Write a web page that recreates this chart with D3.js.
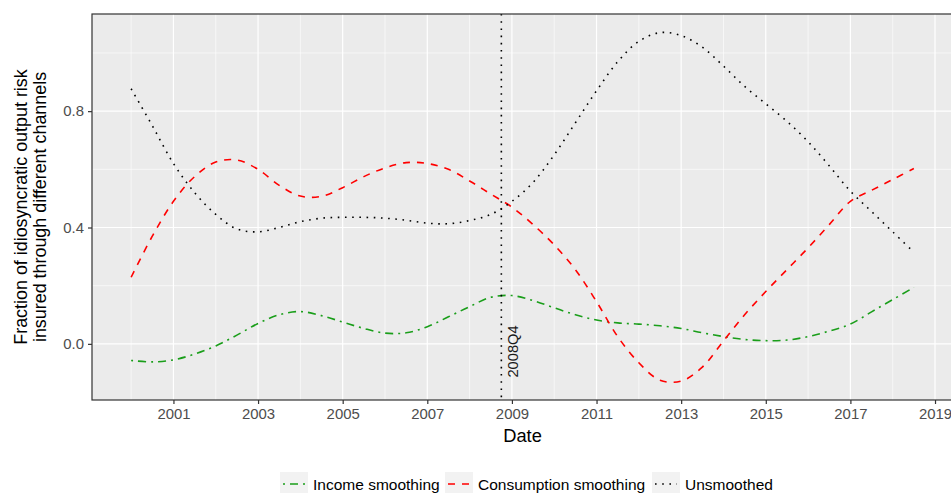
<!DOCTYPE html>
<html>
<head>
<meta charset="utf-8">
<script src="https://cdn.jsdelivr.net/npm/d3@7"></script>
<style>
  html, body { margin: 0; padding: 0; background: #fff; }
  svg { display: block; font-family: "Liberation Sans", Arial, sans-serif; }
</style>
</head>
<body>
<svg id="chart" width="951" height="493"></svg>
<script>
// ---- data ----
const years = [2000, 2000.5, 2001, 2001.5, 2002, 2002.5, 2003, 2003.5, 2004, 2004.5,
  2005, 2005.5, 2006, 2006.5, 2007, 2007.5, 2008, 2008.5, 2009, 2009.5,
  2010, 2010.5, 2011, 2011.5, 2012, 2012.5, 2013, 2013.5, 2014, 2014.5,
  2015, 2015.5, 2016, 2016.5, 2017, 2017.5, 2018, 2018.5];
const incomeSmoothing = [-0.057, -0.062, -0.055, -0.035, -0.007, 0.03, 0.07, 0.1, 0.111, 0.097,
  0.075, 0.053, 0.037, 0.038, 0.059, 0.093, 0.128, 0.16, 0.166, 0.149,
  0.124, 0.1, 0.082, 0.072, 0.068, 0.062, 0.053, 0.038, 0.025, 0.015,
  0.011, 0.013, 0.025, 0.044, 0.068, 0.11, 0.152, 0.194];
const consumptionSmoothing = [0.229, 0.37, 0.49, 0.575, 0.625, 0.632, 0.6, 0.545, 0.508, 0.507,
  0.537, 0.575, 0.605, 0.623, 0.62, 0.6, 0.56, 0.515, 0.47, 0.41,
  0.34, 0.255, 0.145, 0.025, -0.065, -0.125, -0.128, -0.08, 0.01, 0.1,
  0.18, 0.255, 0.33, 0.41, 0.49, 0.528, 0.565, 0.603];
const unsmoothed = [0.877, 0.75, 0.62, 0.52, 0.445, 0.395, 0.385, 0.4, 0.42, 0.432,
  0.435, 0.435, 0.432, 0.425, 0.415, 0.413, 0.424, 0.445, 0.49, 0.555,
  0.65, 0.76, 0.87, 0.97, 1.04, 1.07, 1.06, 1.02, 0.955, 0.885,
  0.825, 0.765, 0.695, 0.612, 0.525, 0.455, 0.385, 0.315];
const seriesNames = ["Income smoothing", "Consumption smoothing", "Unsmoothed"];
const xTicks = [2001, 2003, 2005, 2007, 2009, 2011, 2013, 2015, 2017, 2019];
const xMinor = [2000, 2002, 2004, 2006, 2008, 2010, 2012, 2014, 2016, 2018];
const yTicks = [0.0, 0.4, 0.8];
const yMinor = [0.2, 0.6, 1.0];
const eventDate = 2008.75;
const eventLabel = "2008Q4";
const yTitle = ["Fraction of idiosyncratic output risk", "insured through different channels"];
const xTitle = "Date";

// ---- layout ----
const svg = d3.select("#chart");
const panel = { left: 92, top: 14, right: 953, bottom: 400 };
const x = d3.scaleLinear().domain([1999.075, 2019.425]).range([panel.left, panel.right]);
const y = d3.scaleLinear().domain([-0.193, 1.134]).range([panel.bottom, panel.top]);

const styles = [
  { color: "#1A9E1A", dash: "2,5,8,5" },
  { color: "#FF0000", dash: "7,7" },
  { color: "#000000", dash: "1.6,5.6" }
];
const seriesData = [incomeSmoothing, consumptionSmoothing, unsmoothed];

// panel background
svg.append("rect").attr("x", panel.left).attr("y", panel.top)
  .attr("width", panel.right - panel.left).attr("height", panel.bottom - panel.top)
  .attr("fill", "#EBEBEB");

const grid = svg.append("g");
grid.selectAll(".vminor").data(xMinor).join("line")
  .attr("x1", d => x(d)).attr("x2", d => x(d))
  .attr("y1", panel.top).attr("y2", panel.bottom)
  .attr("stroke", "#fff").attr("stroke-width", 0.6);
grid.selectAll(".hminor").data(yMinor).join("line")
  .attr("y1", d => y(d)).attr("y2", d => y(d))
  .attr("x1", panel.left).attr("x2", panel.right)
  .attr("stroke", "#fff").attr("stroke-width", 0.6);
grid.selectAll(".vmajor").data(xTicks).join("line")
  .attr("x1", d => x(d)).attr("x2", d => x(d))
  .attr("y1", panel.top).attr("y2", panel.bottom)
  .attr("stroke", "#fff").attr("stroke-width", 1.2);
grid.selectAll(".hmajor").data(yTicks).join("line")
  .attr("y1", d => y(d)).attr("y2", d => y(d))
  .attr("x1", panel.left).attr("x2", panel.right)
  .attr("stroke", "#fff").attr("stroke-width", 1.2);

// lines
const line = d3.line().x(d => x(d[0])).y(d => y(d[1])).curve(d3.curveCatmullRom.alpha(0.5));
seriesData.forEach((vals, i) => {
  svg.append("path")
    .datum(years.map((yr, j) => [yr, vals[j]]))
    .attr("d", line)
    .attr("fill", "none")
    .attr("stroke", styles[i].color)
    .attr("stroke-width", 1.6)
    .attr("stroke-dasharray", styles[i].dash);
});

// event vertical line
svg.append("line")
  .attr("x1", x(eventDate)).attr("x2", x(eventDate))
  .attr("y1", panel.top).attr("y2", panel.bottom)
  .attr("stroke", "#000").attr("stroke-width", 1.6)
  .attr("stroke-dasharray", "1.6,5.6");
svg.append("text")
  .attr("transform", `translate(${x(eventDate) + 17},${y(-0.026)}) rotate(-90)`)
  .attr("text-anchor", "middle")
  .attr("font-size", 14.7)
  .attr("fill", "#1a1a1a")
  .text(eventLabel);

// panel border
svg.append("rect").attr("x", panel.left).attr("y", panel.top)
  .attr("width", panel.right - panel.left).attr("height", panel.bottom - panel.top)
  .attr("fill", "none").attr("stroke", "#333").attr("stroke-width", 1.2);

// axes
const xAxis = d3.axisBottom(x).tickValues(xTicks).tickFormat(d3.format("d")).tickSize(4).tickPadding(4);
const gx = svg.append("g").attr("transform", `translate(0,${panel.bottom})`).call(xAxis);
const yAxis = d3.axisLeft(y).tickValues(yTicks).tickFormat(d3.format(".1f")).tickSize(4).tickPadding(4);
const gy = svg.append("g").attr("transform", `translate(${panel.left},0)`).call(yAxis);
[gx, gy].forEach(g => {
  g.select(".domain").remove();
  g.selectAll(".tick line").attr("stroke", "#333").attr("stroke-width", 1.2);
  g.selectAll(".tick text").attr("fill", "#4D4D4D").attr("font-size", 14.9)
    .attr("font-family", "Liberation Sans, Arial, sans-serif");
});

// axis titles
svg.append("text").attr("x", (panel.left + 951) / 2 + 1).attr("y", 442)
  .attr("text-anchor", "middle").attr("font-size", 18.3).attr("fill", "#000").text(xTitle);
const yt = svg.append("text")
  .attr("transform", `translate(0,${(panel.top + panel.bottom) / 2}) rotate(-90)`)
  .attr("text-anchor", "middle").attr("font-size", 17.9).attr("fill", "#000");
yt.append("tspan").attr("x", 0).attr("y", 27).text(yTitle[0]);
yt.append("tspan").attr("x", 0).attr("y", 46).text(yTitle[1]);

// legend
const legendItems = [
  { key: 280, text: 313 },
  { key: 445, text: 478 },
  { key: 652, text: 685 }
];
const lg = svg.append("g");
seriesNames.forEach((name, i) => {
  const k = legendItems[i];
  lg.append("rect").attr("x", k.key).attr("y", 472).attr("width", 28).attr("height", 24)
    .attr("fill", "#F2F2F2");
  lg.append("line").attr("x1", k.key + 3).attr("x2", k.key + 25)
    .attr("y1", 484).attr("y2", 484)
    .attr("stroke", styles[i].color).attr("stroke-width", 1.6)
    .attr("stroke-dasharray", styles[i].dash);
  lg.append("text").attr("x", k.text).attr("y", 489.5)
    .attr("font-size", 15.5).attr("fill", "#000").text(name);
});
</script>
</body>
</html>
